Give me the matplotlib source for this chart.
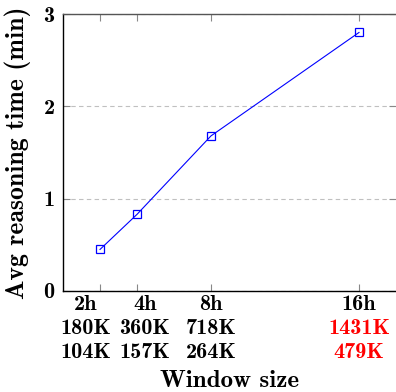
import matplotlib
matplotlib.use("Agg")
import matplotlib.pyplot as plt

# ---- data ----
window_hours = [2, 4, 8, 16]
avg_time_min = [0.45, 0.83, 1.68, 2.80]
row1_labels = ["2h", "4h", "8h", "16h"]
row2_labels = ["180K", "360K", "718K", "1431K"]
row3_labels = ["104K", "157K", "264K", "479K"]
y_ticks = [0, 1, 2, 3]

# ---- style ----
FONT = "cmb10"
FS = 16
FS_X = 18
FS_Y = 18.5
label_dx = [-14, 8, 0, 0]          # pixel offsets of tick label columns
row_colors2 = ["black", "black", "black", "red"]
row_colors3 = ["black", "black", "black", "red"]

fig = plt.figure(figsize=(3.96, 3.92), dpi=100)
ax = fig.add_axes([63/396, 1 - 291/392, 1 - 63/396, (291 - 14)/392])

ax.plot(window_hours, avg_time_min, color="#0000ff", lw=0.8,
        marker="s", markersize=6, markerfacecolor="none",
        markeredgecolor="#0000ff", markeredgewidth=0.9, zorder=3)

ax.set_xlim(0, 18)
ax.set_ylim(0, 3)
ax.set_xticks(window_hours)
ax.set_xticklabels([""] * len(window_hours))
ax.set_yticks(y_ticks)
ax.set_yticklabels([str(v) for v in y_ticks], fontfamily=FONT, fontsize=FS)
ax.yaxis.grid(True, linestyle=(0, (4, 3)), color="#c0c0c0", lw=0.8)
ax.tick_params(axis="x", direction="in", length=5, color="#888888",
               top=True, bottom=True, width=0.8)
ax.tick_params(axis="y", direction="in", length=5, color="#888888",
               left=True, right=True, width=0.8, pad=6)

for s in ["left", "bottom"]:
    ax.spines[s].set_color("black")
    ax.spines[s].set_linewidth(1.0)
ax.spines["top"].set_color("#555555")
ax.spines["top"].set_linewidth(1.0)
ax.spines["right"].set_visible(False)

for i, x in enumerate(window_hours):
    for dy, txt, col in [(-14, row1_labels[i], "black"),
                         (-38, row2_labels[i], row_colors2[i]),
                         (-62, row3_labels[i], row_colors3[i])]:
        ax.annotate(txt, xy=(x, 0), xycoords=("data", "axes fraction"),
                    xytext=(label_dx[i], dy), textcoords="offset pixels",
                    ha="center", va="center", color=col,
                    fontfamily=FONT, fontsize=FS, annotation_clip=False)

ax.annotate("Window size", xy=(0.5, 0), xycoords="axes fraction",
            xytext=(0, -90), textcoords="offset pixels",
            ha="center", va="center", fontfamily=FONT, fontsize=FS_X,
            annotation_clip=False)
ax.annotate("Avg reasoning time (min)", xy=(0, 0.5), xycoords="axes fraction",
            xytext=(-45, 0), textcoords="offset pixels", rotation=90,
            ha="center", va="center", fontfamily=FONT, fontsize=FS_Y,
            annotation_clip=False)

fig.savefig("out.png", dpi=100)
